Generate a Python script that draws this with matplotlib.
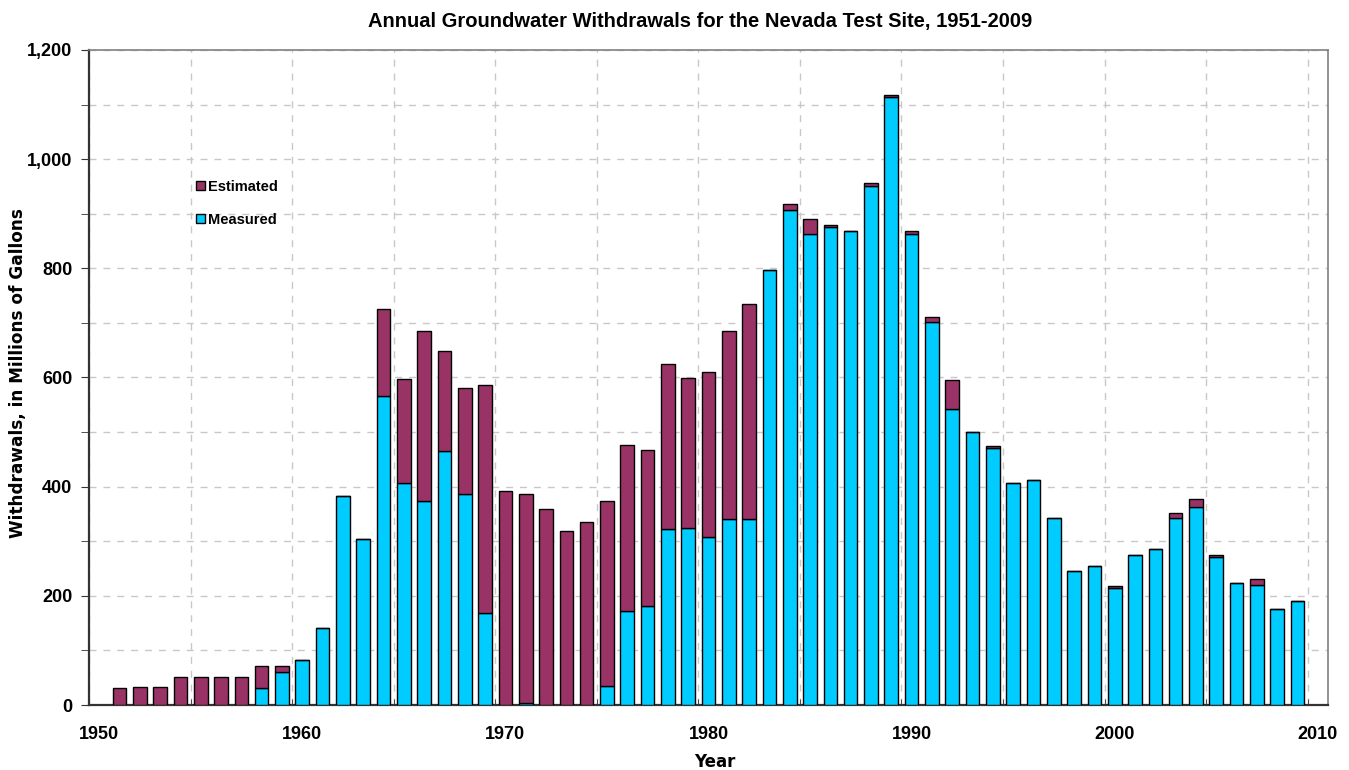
import numpy as np
import matplotlib
matplotlib.use('Agg')
import matplotlib.pyplot as plt
from matplotlib.ticker import MultipleLocator, FixedLocator, FuncFormatter

plt.rcParams['font.family'] = ['Liberation Sans', 'DejaVu Sans']

years = np.arange(1951, 2010)

# millions of gallons
measured = [0, 0, 0, 0, 0, 0, 0, 31, 60, 82,
            141, 382, 305, 566, 407, 374, 466, 387, 169, 0,
            3, 0, 0, 0, 35, 172, 182, 322, 324, 307,
            341, 341, 797, 906, 863, 875, 868, 951, 1113, 862,
            701, 543, 500, 471, 407, 412, 343, 246, 254, 215,
            275, 285, 343, 363, 272, 224, 220, 175, 190]
estimated = [31, 33, 33, 51, 51, 51, 51, 41, 12, 0,
             0, 0, 0, 159, 190, 312, 183, 193, 418, 392,
             384, 359, 318, 336, 339, 305, 285, 303, 275, 303,
             345, 394, 0, 11, 28, 4, 0, 5, 4, 6,
             9, 52, 0, 4, 0, 0, 0, 0, 0, 3,
             0, 0, 9, 14, 3, 0, 11, 0, 0]

decades = [1950, 1960, 1970, 1980, 1990, 2000, 2010]

fig = plt.figure(figsize=(13.49, 7.7), dpi=100)
ax = fig.add_axes([89 / 1349, 1 - 705 / 770, 1239 / 1349, 655 / 770])

x = years + 0.5
b1 = ax.bar(x, measured, width=0.67, color='#00CCFF', edgecolor='black',
            linewidth=1.0, zorder=3, label='Measured')
b2 = ax.bar(x, estimated, bottom=measured, width=0.67, color='#993366',
            edgecolor='black', linewidth=1.0, zorder=3, label='Estimated')

ax.set_xlim(1950, 2011)
ax.set_ylim(0, 1200)

# x axis: labels sit half a year to the right of the 5-year ticks
ax.xaxis.set_major_locator(FixedLocator(np.array(decades) + 0.5))
ax.set_xticklabels([str(d) for d in decades])
ax.xaxis.set_minor_locator(MultipleLocator(5))
ax.tick_params(axis='x', which='major', length=0, pad=15, labelsize=13)
ax.tick_params(axis='x', which='minor', direction='in', length=4, color='#333333')

ax.yaxis.set_major_locator(MultipleLocator(200))
ax.yaxis.set_minor_locator(MultipleLocator(100))
ax.yaxis.set_major_formatter(FuncFormatter(lambda v, p: f'{int(v):,}'))
ax.tick_params(axis='y', which='both', direction='out', length=6, color='#333333',
               labelsize=13, pad=6)

for lab in ax.get_xticklabels() + ax.get_yticklabels():
    lab.set_fontweight('bold')

ax.grid(axis='x', which='minor', linestyle=(0, (5, 5)), color='#c8c8c8', lw=1, zorder=0)
ax.grid(axis='y', which='both', linestyle=(0, (5, 5)), color='#c8c8c8', lw=1, zorder=0)

for s in ['left', 'bottom']:
    ax.spines[s].set_color('#333333')
    ax.spines[s].set_linewidth(1.6)
for s in ['top', 'right']:
    ax.spines[s].set_color('#808080')
    ax.spines[s].set_linewidth(1.2)

fig.text(0.519, 1 - 22 / 770, 'Annual Groundwater Withdrawals for the Nevada Test Site, 1951-2009',
         ha='center', va='center', fontsize=14.5, fontweight='bold')
fig.text(18 / 1349, 1 - 373 / 770, 'Withdrawals, in Millions of Gallons', rotation=90,
         ha='center', va='center', fontsize=12.2, fontweight='bold', family='DejaVu Sans')
fig.text(715 / 1349, 1 - 762 / 770, 'Year', ha='center', va='center',
         fontsize=12, fontweight='bold', family='DejaVu Sans')

fig.legend([b2, b1], ['Estimated', 'Measured'], loc='upper left',
           bbox_to_anchor=(196 / 1349, 1 - 180 / 770), frameon=False,
           borderpad=0, borderaxespad=0, handlelength=0.6, handleheight=0.6,
           handletextpad=0.25, labelspacing=1.3, prop={'size': 10.5, 'weight': 'bold'})

plt.savefig('out.png', dpi=100)
